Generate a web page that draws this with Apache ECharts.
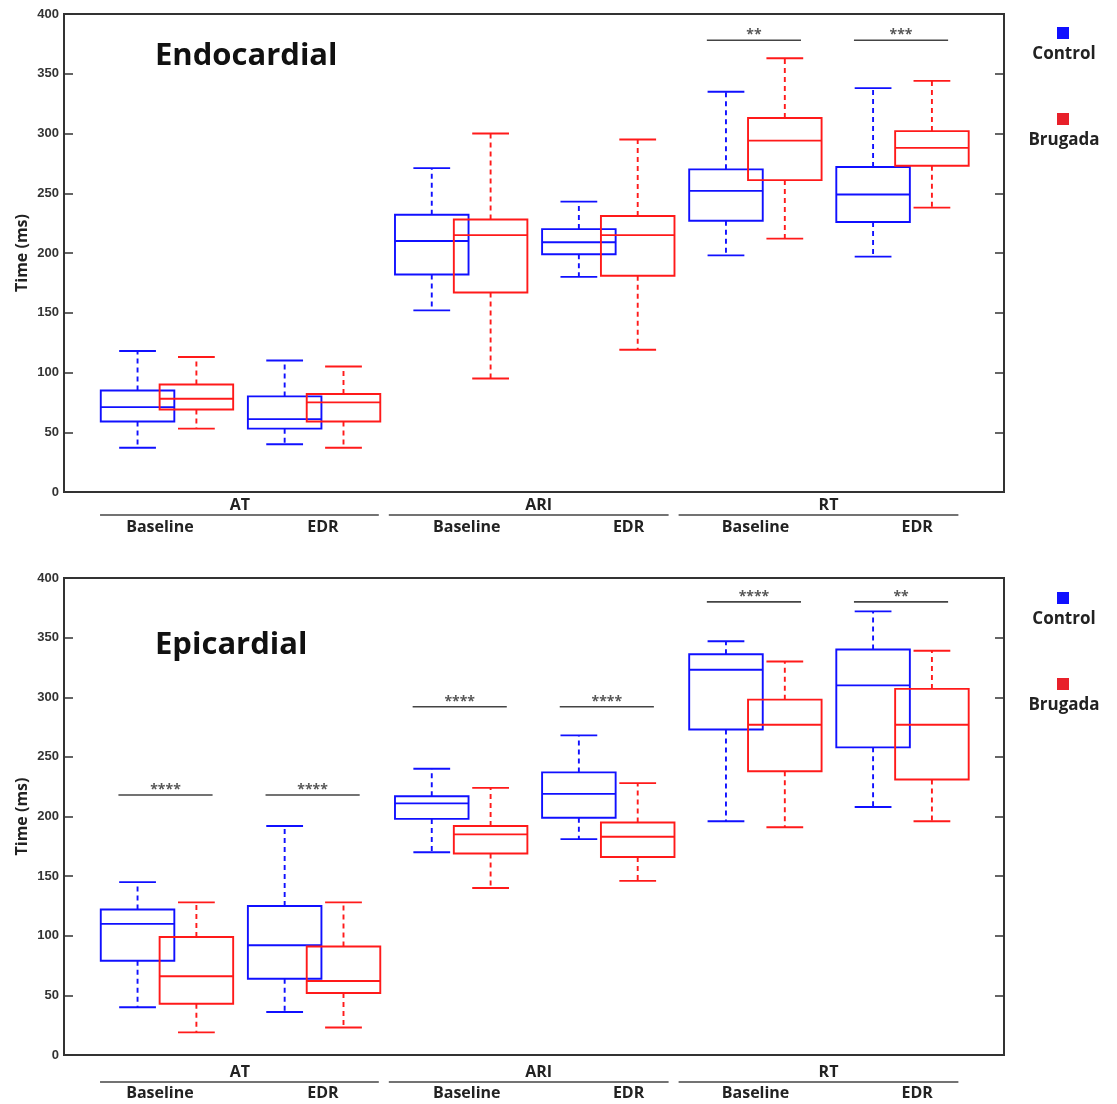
<!DOCTYPE html>
<html>
<head>
<meta charset="utf-8">
<title>Endocardial / Epicardial AT, ARI, RT</title>
<script src="https://cdn.jsdelivr.net/npm/echarts@6/dist/echarts.min.js"></script>
<style>
  html, body { margin: 0; padding: 0; background: #ffffff; }
  #main { width: 1117px; height: 1104px; }
</style>
</head>
<body>
<div id="main"></div>
<script>
// measures and conditions along the x axis
const groups = ['AT', 'ARI', 'RT']
const conditions = ['Baseline', 'EDR']

// boxes: [min, q1, median, q3, max] in ms, order AT-B, AT-E, ARI-B, ARI-E, RT-B, RT-E
const endoControl = [[37, 59, 71, 85, 118], [40, 53, 61, 80, 110], [152, 182, 210, 232, 271], [180, 199, 209, 220, 243], [198, 227, 252, 270, 335], [197, 226, 249, 272, 338]]
const endoBrugada = [[53, 69, 78, 90, 113], [37, 59, 75, 82, 105], [95, 167, 215, 228, 300], [119, 181, 215, 231, 295], [212, 261, 294, 313, 363], [238, 273, 288, 302, 344]]
const epiControl = [[40, 79, 110, 122, 145], [36, 64, 92, 125, 192], [170, 198, 211, 217, 240], [181, 199, 219, 237, 268], [196, 273, 323, 336, 347], [208, 258, 310, 340, 372]]
const epiBrugada = [[19, 43, 66, 99, 128], [23, 52, 62, 91, 128], [140, 169, 185, 192, 224], [146, 166, 183, 195, 228], [191, 238, 277, 298, 330], [196, 231, 277, 307, 339]]

// significance bars
const endoSig = ['', '', '', '', '**', '***']
const endoSigY = [null, null, null, null, 378, 378]
const epiSig = ['****', '****', '****', '****', '****', '**']
const epiSigY = [218, 218, 292, 292, 380, 380]

const BLUE = '#1010ff'
const RED = '#ff1a1a'
const AXIS = '#333333'
const FONT = '"Open Sans", "Liberation Sans", sans-serif'

// geometry in x-axis units (one unit per condition slot)
const X_MAX = 6.39
const CONTROL_OFF = 0.5
const BRUGADA_OFF = 0.9
const BOX_W = 0.5
const CAP_W = 0.25
// where the grouped labels sit under the axis (x units)
const groupLine = [[0.245, 2.14], [2.208, 4.11], [4.178, 6.08]]
const groupHead = [1.196, 3.227, 5.197]
const condPos = [[0.652, 1.76], [2.738, 3.838], [4.701, 5.80]]

const panels = [
  { title: 'Endocardial', titleTop: 36, top: 14, height: 478, control: endoControl, brugada: endoBrugada, sig: endoSig, sigY: endoSigY, gaps: [13, 23, 35], legendTop: 27 },
  { title: 'Epicardial', titleTop: 625, top: 578, height: 477, control: epiControl, brugada: epiBrugada, sig: epiSig, sigY: epiSigY, gaps: [17, 27, 38], legendTop: 592 }
]

function renderBox (params, api) {
  const x = api.value(0)
  const lo = api.coord([x, api.value(1)])
  const q1 = api.coord([x, api.value(2)])
  const med = api.coord([x, api.value(3)])
  const q3 = api.coord([x, api.value(4)])
  const hi = api.coord([x, api.value(5)])
  const half = api.size([BOX_W, 0])[0] / 2
  const cap = api.size([CAP_W, 0])[0] / 2
  const color = api.visual('color')
  const solid = { stroke: color, lineWidth: 1.9, fill: null }
  const dashed = { stroke: color, lineWidth: 1.9, lineDash: [5, 4], fill: null }
  const cx = q1[0]
  return {
    type: 'group',
    children: [
      { type: 'line', shape: { x1: cx, y1: q3[1], x2: cx, y2: hi[1] }, style: dashed },
      { type: 'line', shape: { x1: cx, y1: q1[1], x2: cx, y2: lo[1] }, style: dashed },
      { type: 'line', shape: { x1: cx - cap, y1: hi[1], x2: cx + cap, y2: hi[1] }, style: solid },
      { type: 'line', shape: { x1: cx - cap, y1: lo[1], x2: cx + cap, y2: lo[1] }, style: solid },
      { type: 'rect', shape: { x: cx - half, y: q3[1], width: half * 2, height: q1[1] - q3[1] }, style: solid },
      { type: 'line', shape: { x1: cx - half, y1: med[1], x2: cx + half, y2: med[1] }, style: solid }
    ]
  }
}

function renderSig (params, api) {
  const a = api.coord([api.value(0), api.value(2)])
  const b = api.coord([api.value(1), api.value(2)])
  const label = api.value(3)
  return {
    type: 'group',
    children: [
      { type: 'line', shape: { x1: a[0], y1: a[1], x2: b[0], y2: b[1] }, style: { stroke: '#444', lineWidth: 1.6 } },
      { type: 'text', x: (a[0] + b[0]) / 2, y: a[1] - 5, style: { text: label, fill: '#555', font: 'bold 14px ' + FONT, align: 'center', verticalAlign: 'middle' } }
    ]
  }
}

const grid = []
const xAxis = []
const yAxis = []
const series = []
const title = []

panels.forEach(function (p, k) {
  grid.push({ left: 64, width: 940, top: p.top, height: p.height, show: true, borderColor: AXIS, borderWidth: 2, backgroundColor: 'transparent' })
  xAxis.push({
    type: 'value', gridIndex: k, min: 0, max: X_MAX,
    axisLine: { show: false }, axisTick: { show: false }, axisLabel: { show: false }, splitLine: { show: false }
  })
  const yBase = {
    type: 'value', gridIndex: k, min: 0, max: 400, interval: 50,
    axisLine: { show: true, lineStyle: { color: AXIS, width: 2 } },
    axisTick: { show: true, inside: true, length: 9, lineStyle: { color: AXIS, width: 1.5 } },
    splitLine: { show: false }
  }
  yAxis.push(Object.assign({}, yBase, {
    position: 'left',
    name: 'Time (ms)', nameLocation: 'middle', nameGap: 34, nameMoveOverlap: false,
    nameTextStyle: { fontFamily: FONT, fontWeight: 'bold', fontSize: 16, color: '#222' },
    axisLabel: { show: true, margin: 5, fontFamily: '"Liberation Sans", Arial, sans-serif', fontWeight: 'bold', fontSize: 13, color: '#333' }
  }))
  yAxis.push(Object.assign({}, yBase, { position: 'right', axisLabel: { show: false } }))

  title.push({ text: p.title, left: 150, top: p.titleTop, textStyle: { fontFamily: FONT, fontWeight: 'bold', fontSize: 31, color: '#111' } })

  series.push({
    name: 'Control', type: 'custom', xAxisIndex: k, yAxisIndex: k * 2,
    itemStyle: { color: BLUE }, silent: true,
    renderItem: renderBox, encode: { x: 0, y: [1, 2, 3, 4, 5] },
    data: p.control.map(function (d, i) { return [i + CONTROL_OFF].concat(d) })
  })
  series.push({
    name: 'Brugada', type: 'custom', xAxisIndex: k, yAxisIndex: k * 2,
    itemStyle: { color: RED }, silent: true,
    renderItem: renderBox, encode: { x: 0, y: [1, 2, 3, 4, 5] },
    data: p.brugada.map(function (d, i) { return [i + BRUGADA_OFF].concat(d) })
  })
  const sigData = []
  p.sig.forEach(function (s, i) {
    if (s) sigData.push([i + 0.37, i + 1.01, p.sigY[i], s])
  })
  series.push({
    type: 'custom', xAxisIndex: k, yAxisIndex: k * 2, silent: true,
    renderItem: renderSig, encode: { x: [0, 1], y: 2 },
    dimensions: ['x0', 'x1', 'y', { name: 'label', type: 'ordinal' }],
    data: sigData
  })
})

const myChart = echarts.init(document.getElementById('main'), null, { renderer: 'canvas' })
myChart.setOption({ animation: false, title: title, grid: grid, xAxis: xAxis, yAxis: yAxis, series: series })

// grouped category labels under each panel and the legend keys on the right
const graphic = []
panels.forEach(function (p, k) {
  const yb = p.top + p.height
  const px = function (v) { return myChart.convertToPixel({ xAxisIndex: k }, v) }
  const label = function (t, x, y) {
    return { type: 'text', x: x, y: y, style: { text: t, font: 'bold 16px ' + FONT, fill: '#222', align: 'center', verticalAlign: 'middle' } }
  }
  groups.forEach(function (g, gi) {
    graphic.push(label(g, px(groupHead[gi]), yb + p.gaps[0]))
    graphic.push({ type: 'line', shape: { x1: px(groupLine[gi][0]), y1: yb + p.gaps[1], x2: px(groupLine[gi][1]), y2: yb + p.gaps[1] }, style: { stroke: '#444', lineWidth: 1.6 } })
    conditions.forEach(function (c, ci) {
      graphic.push(label(c, px(condPos[gi][ci]), yb + p.gaps[2]))
    })
  })
  const keys = [['Control', BLUE], ['Brugada', '#e8202a']]
  keys.forEach(function (kv, i) {
    const top = p.legendTop + i * 86
    graphic.push({ type: 'rect', shape: { x: 1057, y: top, width: 12, height: 12 }, style: { fill: kv[1] } })
    graphic.push({ type: 'text', x: 1064, y: top + 27, style: { text: kv[0], font: 'bold 17px ' + FONT, fill: '#222', align: 'center', verticalAlign: 'middle' } })
  })
})
myChart.setOption({ graphic: graphic })
</script>
</body>
</html>
